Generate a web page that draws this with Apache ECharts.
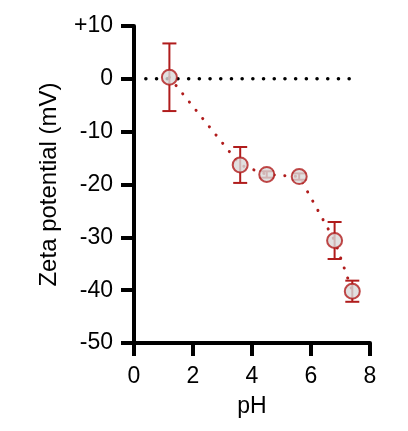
<!doctype html>
<html>
<head>
  <meta charset="utf-8">
  <title>Zeta potential vs pH</title>
  <script src="https://cdn.jsdelivr.net/npm/echarts@6/dist/echarts.min.js"></script>
  <style>
    html, body { margin: 0; padding: 0; background: #fff; }
    #chart { width: 408px; height: 431px; }
  </style>
</head>
<body>
<div id="chart"></div>
<script>
// measured values
var ph = [1.2, 3.6, 4.5, 5.6, 6.8, 7.4];
var zeta = [0.3, -16.3, -18.1, -18.5, -30.6, -40.2];
var zetaErr = [6.4, 3.4, 0.6, 0.6, 3.5, 2.0];
var zeroLineX = [0.4, 7.6];
var xTicks = [0, 2, 4, 6, 8];
var yTicks = [-50, -40, -30, -20, -10, 0, 10];

var red = '#b01c1c';
var font = 'Liberation Sans, Arial, sans-serif';

var points = ph.map(function (x, i) { return [x, zeta[i]]; });
var bars = ph.map(function (x, i) { return [x, zeta[i] - zetaErr[i], zeta[i] + zetaErr[i]]; });

var chart = echarts.init(document.getElementById('chart'));

var option = {
  animation: false,
  grid: { left: 134, right: 38, top: 26, bottom: 88 },
  xAxis: {
    type: 'value',
    min: xTicks[0],
    max: xTicks[xTicks.length - 1],
    interval: 2,
    name: 'pH',
    nameLocation: 'middle',
    nameGap: 52,
    nameTextStyle: { color: '#000', fontSize: 23, fontFamily: font },
    axisLine: { onZero: false, lineStyle: { color: '#000', width: 4 } },
    axisTick: { length: 13, lineStyle: { color: '#000', width: 4 } },
    axisLabel: { color: '#000', fontSize: 23, fontFamily: font, margin: 22 },
    splitLine: { show: false }
  },
  yAxis: {
    type: 'value',
    min: yTicks[0],
    max: yTicks[yTicks.length - 1],
    interval: 10,
    name: 'Zeta potential (mV)',
    nameLocation: 'middle',
    nameGap: 73,
    nameTextStyle: { color: '#000', fontSize: 24, fontFamily: font },
    axisLine: { onZero: false, lineStyle: { color: '#000', width: 4 } },
    axisTick: { length: 13, lineStyle: { color: '#000', width: 4 } },
    axisLabel: {
      color: '#000', fontSize: 23, fontFamily: font, margin: 21,
      formatter: function (v) { return v > 0 ? '+' + v : String(v); }
    },
    splitLine: { show: false }
  },
  series: [
    {
      // zero reference
      type: 'line',
      data: zeroLineX.map(function (x) { return [x, 0]; }),
      symbol: 'none',
      lineStyle: { color: '#000', width: 3.5, type: [0.1, 10.6], cap: 'round' },
      silent: true,
      z: 1
    },
    {
      type: 'line',
      data: points,
      symbol: 'none',
      lineStyle: { color: red, width: 3, type: [0.1, 10.5], cap: 'round' },
      silent: true,
      z: 2
    },
    {
      type: 'custom',
      data: bars,
      renderItem: function (params, api) {
        var lo = api.coord([api.value(0), api.value(1)]);
        var hi = api.coord([api.value(0), api.value(2)]);
        var w = 7;
        var st = { stroke: red, lineWidth: 2 };
        return {
          type: 'group',
          children: [
            { type: 'line', shape: { x1: lo[0], y1: lo[1], x2: hi[0], y2: hi[1] }, style: st },
            { type: 'line', shape: { x1: lo[0] - w, y1: lo[1], x2: lo[0] + w, y2: lo[1] }, style: st },
            { type: 'line', shape: { x1: hi[0] - w, y1: hi[1], x2: hi[0] + w, y2: hi[1] }, style: st }
          ]
        };
      },
      z: 3
    },
    {
      type: 'scatter',
      data: points,
      symbol: 'circle',
      symbolSize: 15,
      itemStyle: { color: '#d9d9d9', borderColor: red, borderWidth: 2 },
      z: 4
    }
  ]
};

chart.setOption(option);
</script>
</body>
</html>
